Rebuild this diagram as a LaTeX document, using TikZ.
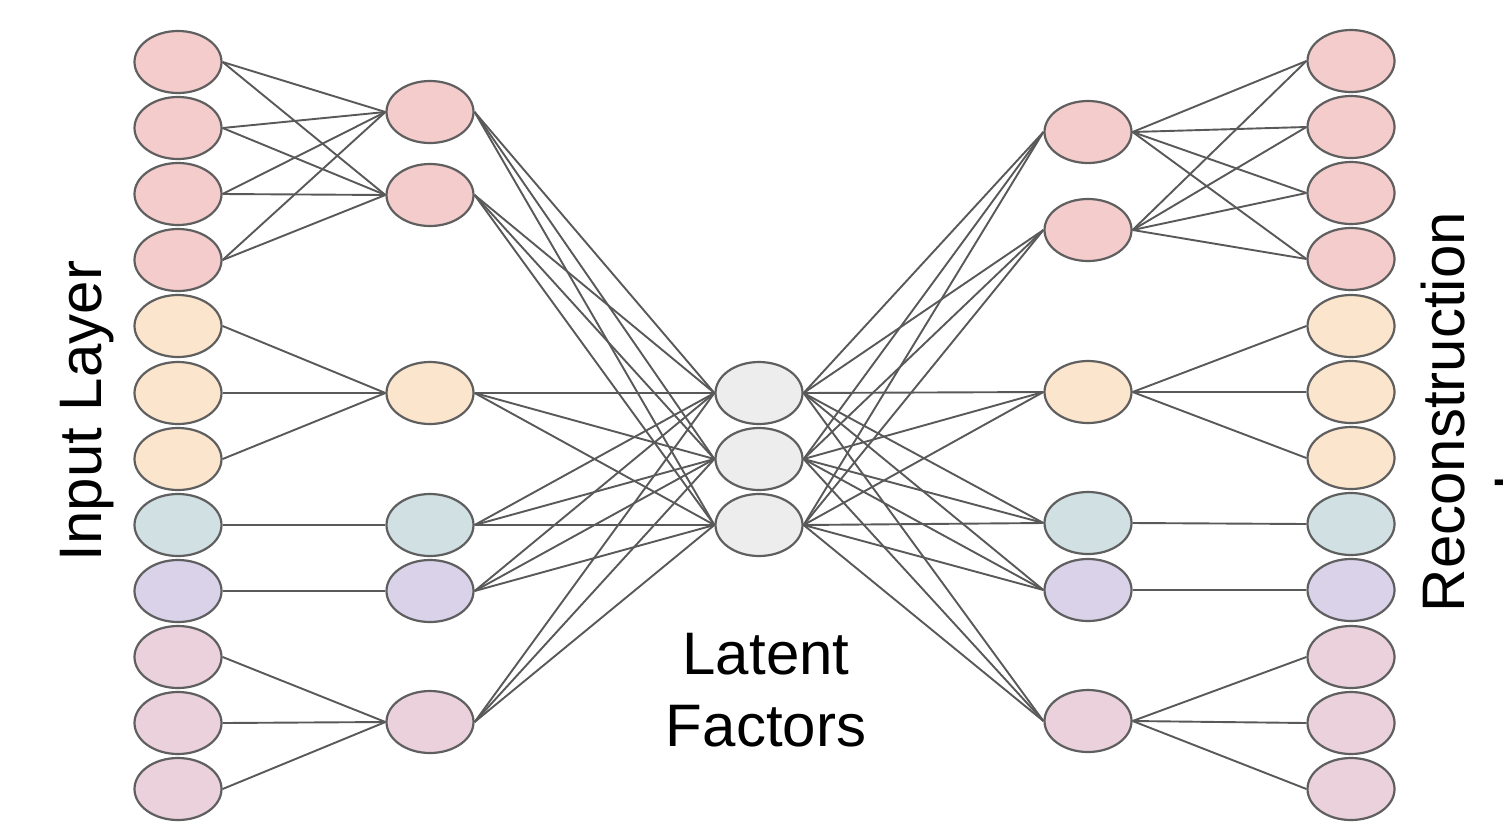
\documentclass[tikz,border=0pt]{standalone}
\usepackage{fontspec}
\setmainfont{Liberation Sans}
\usetikzlibrary{shapes.geometric,backgrounds}
\definecolor{cred}{HTML}{F4CCCC}
\definecolor{corange}{HTML}{FCE5CD}
\definecolor{ccyan}{HTML}{D0E0E3}
\definecolor{cpurple}{HTML}{D9D2E9}
\definecolor{cmagenta}{HTML}{EAD1DC}
\definecolor{cgray}{HTML}{EDEDED}
\definecolor{bordergray}{HTML}{5F5F5F}
\definecolor{linegray}{HTML}{595959}
\begin{document}
\begin{tikzpicture}[x=1pt,y=-1pt,
  neuron/.style={ellipse, draw=bordergray, line width=2.2pt, minimum width=87pt, minimum height=62pt, inner sep=0pt},
  conn/.style={draw=linegray, line width=1.9pt},
  lbl/.style={font=\fontsize{60}{72}\selectfont, text=black}]
\useasboundingbox (0,0) rectangle (1503,825);

% input layer
\foreach \y/\c [count=\i] in {62/cred,128/cred,194/cred,260/cred,326/corange,393/corange,459/corange,525/ccyan,591/cpurple,657/cmagenta,723/cmagenta,789/cmagenta}
  \node[neuron, fill=\c] (in\i) at (178,\y) {};
% output layer
\foreach \y/\c [count=\i] in {61/cred,127/cred,193/cred,259/cred,326/corange,392/corange,458/corange,524/ccyan,590/cpurple,657/cmagenta,723/cmagenta,789/cmagenta}
  \node[neuron, fill=\c] (out\i) at (1351,\y) {};
% left hidden
\foreach \y/\c [count=\i] in {112/cred,195/cred,393/corange,525/ccyan,591/cpurple,722/cmagenta}
  \node[neuron, fill=\c] (h\i) at (430,\y) {};
% right hidden
\foreach \y/\c [count=\i] in {132/cred,230/cred,392/corange,523/ccyan,590/cpurple,721/cmagenta}
  \node[neuron, fill=\c] (g\i) at (1088,\y) {};
% latent
\foreach \y [count=\i] in {393,459,525}
  \node[neuron, fill=cgray] (z\i) at (759,\y) {};

\begin{scope}[on background layer]
  \fill[white] (0,0) rectangle (1503,825);
  \foreach \a in {1,2,3,4} \foreach \b in {1,2} \draw[conn] (in\a.east) -- (h\b.west);
  \foreach \a in {5,6,7} \draw[conn] (in\a.east) -- (h3.west);
  \draw[conn] (in8.east) -- (h4.west);
  \draw[conn] (in9.east) -- (h5.west);
  \foreach \a in {10,11,12} \draw[conn] (in\a.east) -- (h6.west);
  \foreach \a in {1,...,6} \foreach \b in {1,2,3} \draw[conn] (h\a.east) -- (z\b.west);
  \foreach \a in {1,2,3} \foreach \b in {1,...,6} \draw[conn] (z\a.east) -- (g\b.west);
  \foreach \a in {1,2} \foreach \b in {1,2,3,4} \draw[conn] (g\a.east) -- (out\b.west);
  \foreach \b in {5,6,7} \draw[conn] (g3.east) -- (out\b.west);
  \draw[conn] (g4.east) -- (out8.west);
  \draw[conn] (g5.east) -- (out9.west);
  \foreach \b in {10,11,12} \draw[conn] (g6.east) -- (out\b.west);
\end{scope}

\node[lbl, rotate=90, anchor=base] (inlab) at (101,411) {Input Layer};
\node[lbl, rotate=90, anchor=base] (reclab) at (1464,412) {Reconstruction};
\begin{scope}
  \clip (0,0) rectangle (1503,825);
  \node[lbl, rotate=90, anchor=base] (laylab) at (1536,415) {Layer};
\end{scope}
\node[lbl, align=center] (latlab) at (766,690) {Latent\\Factors};
\end{tikzpicture}
\end{document}
